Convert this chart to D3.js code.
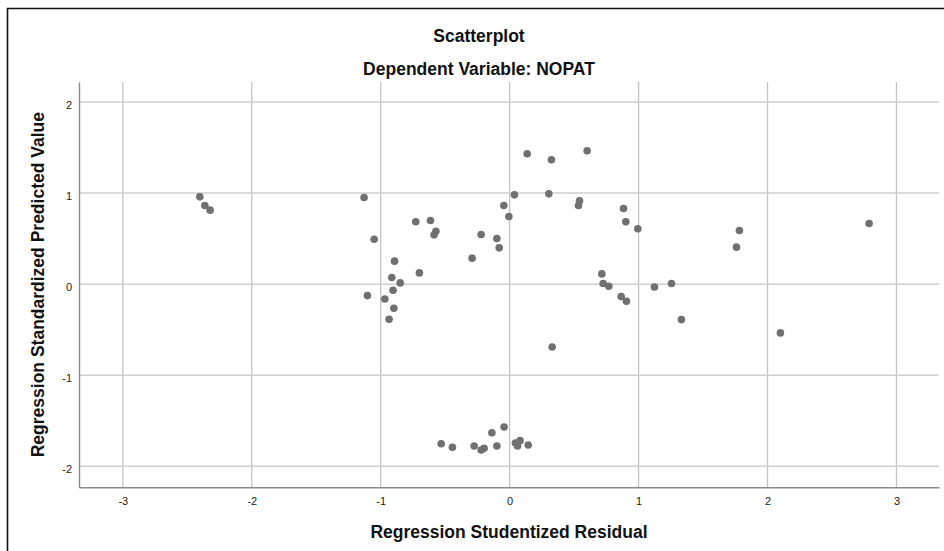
<!DOCTYPE html>
<html lang="en">
<head>
    <meta charset="UTF-8">
    <script src="https://d3js.org/d3.v7.min.js"></script>
    <title>Scatterplot</title>
    <style>
        body { margin: 0; background: #fff; }
        text { font-family: Arial, "Liberation Sans", sans-serif; }
    </style>
</head>
<body>

<script>
    // Regression Studentized Residual (x) vs Regression Standardized Predicted Value (y)
    const residual = [
        -2.403, -2.364, -2.323,
        -1.129, -1.051, -1.103, -0.893, -0.914, -0.849, -0.904, -0.968, -0.898, -0.935,
        -0.728, -0.614, -0.572, -0.586, -0.700, -0.291, -0.221, -0.099, -0.081,
        -0.045, -0.006, 0.037, 0.136, 0.324, 0.304, 0.601, 0.542, 0.534,
        0.883, 0.901, 0.994, 0.715, 0.725, 0.769, 0.865, 0.906,
        1.782, 1.759, 2.788, 1.123, 1.255, 1.332, 2.100,
        0.330,
        -0.531, -0.444, -0.275, -0.221, -0.198, -0.099, -0.138, -0.043,
        0.045, 0.081, 0.061, 0.144
    ];
    const predicted = [
        0.959, 0.864, 0.813,
        0.952, 0.494, -0.125, 0.253, 0.073, 0.014, -0.066, -0.162, -0.264, -0.385,
        0.685, 0.699, 0.582, 0.542, 0.124, 0.286, 0.545, 0.501, 0.399,
        0.864, 0.743, 0.981, 1.432, 1.366, 0.992, 1.465, 0.915, 0.864,
        0.831, 0.685, 0.608, 0.113, 0.007, -0.022, -0.136, -0.187,
        0.589, 0.407, 0.666, -0.030, 0.007, -0.389, -0.535,
        -0.689,
        -1.752, -1.791, -1.777, -1.821, -1.802, -1.777, -1.631, -1.568,
        -1.744, -1.718, -1.777, -1.766
    ];
    const xTicks = [-3, -2, -1, 0, 1, 2, 3];
    const yTicks = [-2, -1, 0, 1, 2];

    const width = 944, height = 551;
    const plot = { left: 79, right: 939, top: 82, bottom: 487.3 };
    const labelSize = 17.5;

    const svg = d3.select("body").append("svg")
        .attr("width", width)
        .attr("height", height);

    // frame
    svg.append("path")
        .attr("d", "M7.5," + height + "V8.5H" + width)
        .attr("fill", "none")
        .attr("stroke", "#111")
        .attr("stroke-width", 1.6);

    const xScale = d3.scaleLinear()
        .domain([-3.34, 3.33])
        .range([plot.left, plot.right]);

    const yScale = d3.scaleLinear()
        .domain([-2.23, 2.22])
        .range([plot.bottom, plot.top]);

    // grid lines
    svg.append("g").selectAll("line")
        .data(xTicks)
        .enter().append("line")
        .attr("x1", d => xScale(d)).attr("x2", d => xScale(d))
        .attr("y1", plot.top).attr("y2", plot.bottom)
        .attr("stroke", "#c4c4c4")
        .attr("stroke-width", 1.3);

    svg.append("g").selectAll("line")
        .data(yTicks)
        .enter().append("line")
        .attr("x1", plot.left).attr("x2", plot.right)
        .attr("y1", d => yScale(d)).attr("y2", d => yScale(d))
        .attr("stroke", "#cfcfcf")
        .attr("stroke-width", 1.5);

    // plain hyphen for negatives, like the original
    const fmt = d => String(d);

    // x axis
    const xAxis = svg.append("g")
        .attr("transform", "translate(0," + plot.bottom + ")")
        .call(d3.axisBottom(xScale).tickValues(xTicks).tickFormat(fmt)
            .tickSize(0).tickPadding(10));
    xAxis.select(".domain").attr("stroke", "#8a8a8a").attr("stroke-width", 1.4);
    xAxis.selectAll("text").attr("font-size", 11).attr("fill", "#222")
        .style("font-family", "Arial, 'Liberation Sans', sans-serif");

    // y axis
    const yAxis = svg.append("g")
        .attr("transform", "translate(" + plot.left + ",0)")
        .call(d3.axisLeft(yScale).tickValues(yTicks).tickFormat(fmt)
            .tickSize(0).tickPadding(7));
    yAxis.select(".domain").attr("stroke", "#8a8a8a").attr("stroke-width", 1.4);
    yAxis.selectAll("text").attr("font-size", 11).attr("fill", "#222").attr("dy", "0.55em")
        .style("font-family", "Arial, 'Liberation Sans', sans-serif");

    // dots
    const points = residual.map((r, i) => ({ x: r, y: predicted[i] }));
    svg.append("g").selectAll("circle")
        .data(points)
        .enter().append("circle")
        .attr("cx", d => xScale(d.x))
        .attr("cy", d => yScale(d.y))
        .attr("r", 3.8)
        .attr("fill", "#707070");

    // titles
    svg.append("text")
        .attr("x", 479).attr("y", 42)
        .attr("text-anchor", "middle")
        .attr("font-size", labelSize).attr("font-weight", "bold").attr("fill", "#111")
        .text("Scatterplot");

    svg.append("text")
        .attr("x", 479).attr("y", 75)
        .attr("text-anchor", "middle")
        .attr("font-size", labelSize).attr("font-weight", "bold").attr("fill", "#111")
        .text("Dependent Variable: NOPAT");

    // axis labels
    svg.append("text")
        .attr("x", (plot.left + plot.right) / 2).attr("y", 538)
        .attr("text-anchor", "middle")
        .attr("font-size", labelSize).attr("font-weight", "bold").attr("fill", "#111")
        .text("Regression Studentized Residual");

    svg.append("text")
        .attr("transform", "rotate(-90)")
        .attr("x", -(plot.top + plot.bottom) / 2)
        .attr("y", 44)
        .attr("text-anchor", "middle")
        .attr("font-size", labelSize).attr("font-weight", "bold").attr("fill", "#111")
        .text("Regression Standardized Predicted Value");
</script>

</body>
</html>
